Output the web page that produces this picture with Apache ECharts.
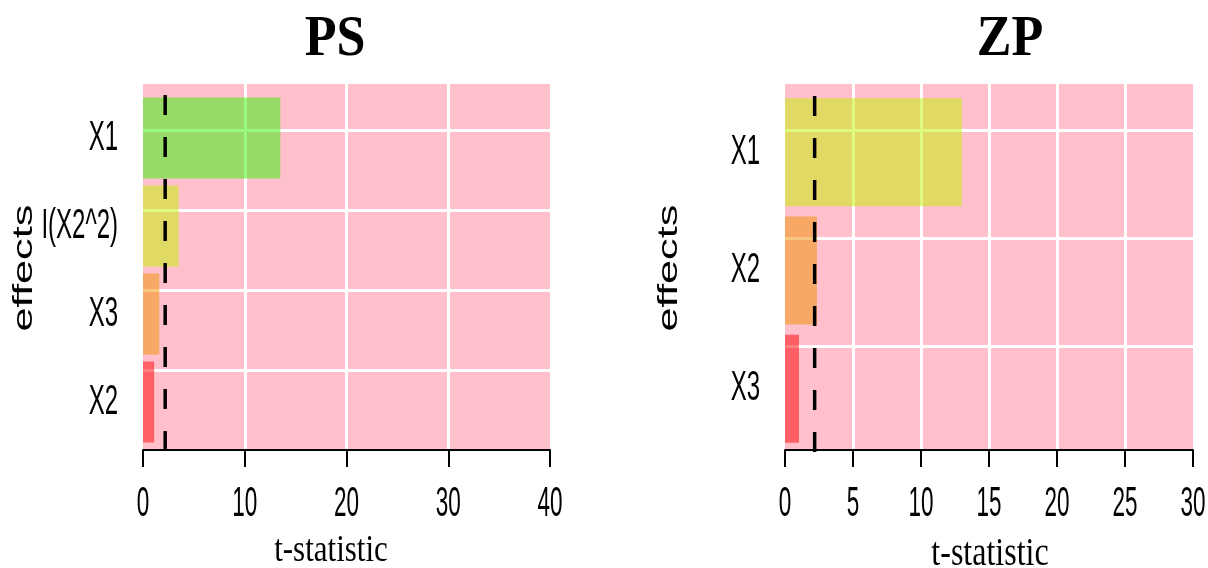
<!DOCTYPE html>
<html>
<head>
<meta charset="utf-8">
<script src="https://cdn.jsdelivr.net/npm/echarts@6/dist/echarts.min.js"></script>
<style>
html,body{margin:0;padding:0;background:#fff;}
#chart{width:1208px;height:568px;}
</style>
</head>
<body>
<div id="chart"></div>
<script>
// ---- data ----
const psTitle = 'PS';
const psCategories = ['X1', 'I(X2^2)', 'X3', 'X2'];
const psValues = [13.5, 3.5, 1.6, 1.1];
const psTicks = [0, 10, 20, 30, 40];

const zpTitle = 'ZP';
const zpCategories = ['X1', 'X2', 'X3'];
const zpValues = [13.0, 2.35, 1.03];
const zpTicks = [0, 5, 10, 15, 20, 25, 30];

const criticalT = 2.18;

const psColors = ['rgba(47,244,0,0.5)', 'rgba(193,244,0,0.5)', 'rgba(241,144,0,0.5)', 'rgba(255,0,0,0.5)'];
const zpColors = ['rgba(193,244,0,0.5)', 'rgba(241,144,0,0.5)', 'rgba(255,0,0,0.5)'];

const SANS = "'Liberation Sans', Arial, sans-serif";
const SERIF = "'Liberation Serif', 'Times New Roman', serif";

function panel(cfg) {
  const base = cfg.gridBase;
  const tickMin = cfg.ticks[0], tickMax = cfg.ticks[cfg.ticks.length - 1];
  const interval = cfg.ticks[1] - cfg.ticks[0];
  const grids = [
    {left: cfg.left, width: cfg.width, top: 84, height: 366, show: true, backgroundColor: '#FFC0CB', borderWidth: 0},
    {left: cfg.left, width: cfg.width, top: cfg.hTop, height: cfg.hHeight, show: false},
    {left: cfg.left, width: cfg.width, top: cfg.bTop, height: cfg.bHeight, show: false},
    {left: cfg.left, width: cfg.width, top: cfg.dTop, height: 456 - cfg.dTop, show: false}
  ];
  const xAxes = [
    {gridIndex: base, type: 'value', min: tickMin, max: tickMax, interval: interval, offset: 6,
     axisLine: {show: true, lineStyle: {color: '#000', width: 2}},
     axisTick: {show: true, length: 17, lineStyle: {color: '#000', width: 2}},
     axisLabel: {show: false},
     splitLine: {show: true, showMinLine: false, showMaxLine: false, lineStyle: {color: '#fff', width: 3}}},
    {gridIndex: base + 1, type: 'value', min: tickMin, max: tickMax, show: false},
    {gridIndex: base + 2, type: 'value', min: tickMin, max: tickMax, show: false},
    {gridIndex: base + 3, type: 'value', min: tickMin, max: tickMax, show: false}
  ];
  const yAxes = [
    {gridIndex: base, type: 'value', min: 0, max: 1, show: false},
    {gridIndex: base + 1, type: 'value', min: 0, max: cfg.hHeight, interval: cfg.hInterval,
     axisLine: {show: false}, axisTick: {show: false}, axisLabel: {show: false},
     splitLine: {show: true, showMinLine: false, showMaxLine: true, lineStyle: {color: '#fff', width: 3}}},
    {gridIndex: base + 2, type: 'category', data: cfg.categories, inverse: true,
     axisLine: {show: false}, axisTick: {show: false}, splitLine: {show: false}, axisLabel: {show: false}},
    {gridIndex: base + 3, type: 'value', min: 0, max: 1, show: false}
  ];
  const series = [
    {type: 'bar', xAxisIndex: base + 2, yAxisIndex: base + 2, barWidth: cfg.barWidth, z: 3, silent: true,
     data: cfg.values.map((v, i) => ({value: v, itemStyle: {color: cfg.colors[i]}}))},
    {type: 'line', xAxisIndex: base + 3, yAxisIndex: base + 3, z: 5, silent: true, symbol: 'none',
     lineStyle: {color: '#000', width: 3.5, type: [20, 22]},
     data: [[criticalT, 1], [criticalT, 0]]},
    // category names (stretched vertically like the reference)
    {type: 'custom', xAxisIndex: base + 2, yAxisIndex: base + 2, z: 6, silent: true, clip: false,
     data: cfg.categories.map((c, i) => [0, i]),
     renderItem: function (params, api) {
       const p = api.coord([0, api.value(1)]);
       return {type: 'text', x: p[0] - 25, y: p[1], scaleY: 1.75,
         style: {text: cfg.categories[api.value(1)], align: 'right', verticalAlign: 'middle',
                 fontSize: 24, fontFamily: SANS, fill: '#000'}};
     }},
    // tick labels
    {type: 'custom', xAxisIndex: base, yAxisIndex: base, z: 6, silent: true, clip: false,
     data: cfg.ticks.map(t => [t, 0]),
     renderItem: function (params, api) {
       const p = api.coord([api.value(0), 0]);
       return {type: 'text', x: p[0], y: p[1] + 55, scaleY: 1.85,
         style: {text: String(api.value(0)), align: 'center', verticalAlign: 'middle',
                 fontSize: 22.5, fontFamily: SANS, fill: '#000'}};
     }}
  ];
  return {grids, xAxes, yAxes, series};
}

const left = panel({gridBase: 0, left: 143, width: 407, ticks: psTicks, categories: psCategories, values: psValues,
  colors: psColors, hTop: 130, hHeight: 320, hInterval: 80, bTop: 94, bHeight: 352, barWidth: 81, dTop: 95});
const right = panel({gridBase: 4, left: 785, width: 408, ticks: zpTicks, categories: zpCategories, values: zpValues,
  colors: zpColors, hTop: 130, hHeight: 324, hInterval: 108, bTop: 93, bHeight: 355, barWidth: 108, dTop: 96});

function txt(x, y, text, opts) {
  return Object.assign({type: 'text', x: x, y: y, silent: true,
    style: Object.assign({text: text, fill: '#000', align: 'center', verticalAlign: 'middle'}, opts.style)},
    opts.el || {});
}

const chart = echarts.init(document.getElementById('chart'), null, {renderer: 'canvas'});
chart.setOption({
  animation: false,
  backgroundColor: '#fff',
  grid: left.grids.concat(right.grids),
  xAxis: left.xAxes.concat(right.xAxes),
  yAxis: left.yAxes.concat(right.yAxes),
  series: left.series.concat(right.series),
  graphic: [
    txt(335, 40, psTitle, {style: {fontSize: 52, fontWeight: 'bold', fontFamily: SERIF}, el: {scaleY: 1.08}}),
    txt(1010, 40, zpTitle, {style: {fontSize: 52, fontWeight: 'bold', fontFamily: SERIF}, el: {scaleY: 1.08}}),
    txt(24, 268, 'effects', {style: {fontSize: 28, fontFamily: SANS}, el: {rotation: Math.PI / 2, scaleX: 1.55}}),
    txt(669, 268, 'effects', {style: {fontSize: 28, fontFamily: SANS}, el: {rotation: Math.PI / 2, scaleX: 1.55}}),
    txt(331, 551, 't-statistic', {style: {fontSize: 31, fontFamily: SERIF}, el: {scaleY: 1.25}}),
    txt(990, 554, 't-statistic', {style: {fontSize: 32, fontFamily: SERIF}, el: {scaleY: 1.25}})
  ]
});
</script>
</body>
</html>
